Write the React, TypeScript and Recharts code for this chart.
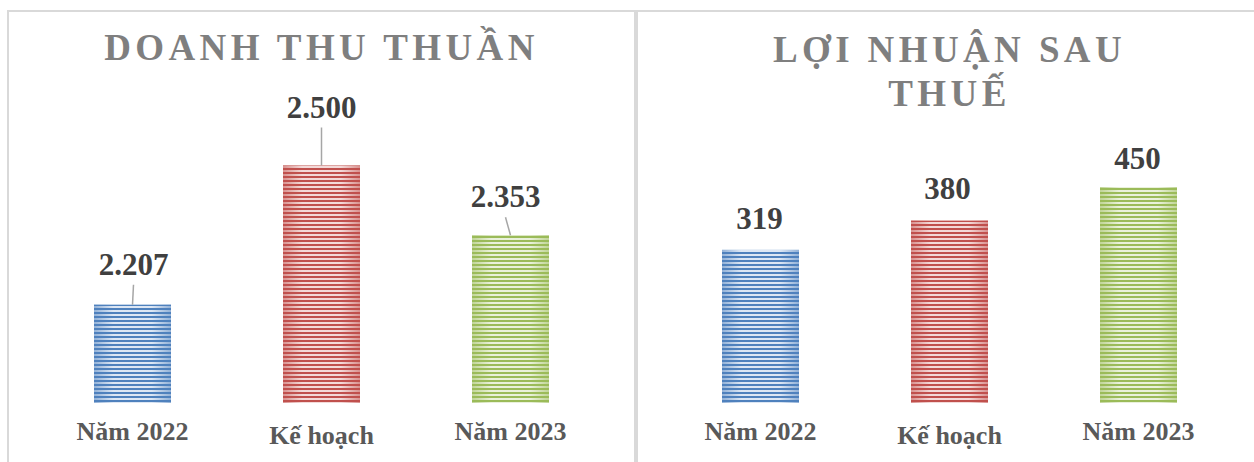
import React from 'react';
import { BarChart, Bar, XAxis, YAxis, LabelList, Cell } from 'recharts';

const categories = ['Năm 2022', 'Kế hoạch', 'Năm 2023'];
const revenueValues = [2207, 2500, 2353];
const profitValues = [319, 380, 450];
const revenueDomain = [2000, 2600];
const profitDomain = [0, 500];
const revenueTitle = ['DOANH THU THUẦN'];
const profitTitle = ['LỢI NHUẬN SAU', 'THUẾ'];

const revenueData = categories.map((name, i) => ({ name, value: revenueValues[i] }));
const profitData = categories.map((name, i) => ({ name, value: profitValues[i] }));

const palette = [
  { dark: '#4f81bd', light: '#e4ecf7' },
  { dark: '#c0504d', light: '#f6e1e0' },
  { dark: '#9bbb59', light: '#eef4e2' },
];

const FONT = '"Liberation Serif", "Times New Roman", serif';

const fmt = (v: number) => String(v).replace(/\B(?=(\d{3})+(?!\d))/g, '.');

// label placement style (offset of text baseline above bar top, horizontal shift)
const revenueLabelStyle = [
  { dy: 30, dx: 1, leader: true },
  { dy: 48, dx: 0, leader: true },
  { dy: 28, dx: -5, leader: true },
];
const profitLabelStyle = [
  { dy: 21, dx: -1, leader: false },
  { dy: 22, dx: -2, leader: false },
  { dy: 18, dx: -1, leader: false },
];

const makeShape = (prefix: string) => (props: any) => {
  const { x, y, width, height, index } = props;
  return (
    <g>
      <rect x={x} y={y} width={width} height={height} fill={palette[index].dark} />
      <rect x={x} y={y} width={width} height={height} fill={`url(#${prefix}-stripe-${index})`} />
      <rect x={x} y={y} width={width} height={height} fill={`url(#${prefix}-edge-${index})`} />
    </g>
  );
};

const makeLabel = (styles: any[]) => (props: any) => {
  const { x, y, width, value, index } = props;
  const s = styles[index];
  const cx = x + width / 2;
  const tx = cx + s.dx;
  const base = y - s.dy;
  return (
    <g>
      {s.leader && (
        <line x1={cx} y1={y} x2={tx} y2={base + 10} stroke="#a6a6a6" strokeWidth={1.5} />
      )}
      <text
        x={tx}
        y={base}
        textAnchor="middle"
        fontFamily={FONT}
        fontWeight="bold"
        fontSize={31}
        fill="#404040"
      >
        {fmt(value)}
      </text>
    </g>
  );
};

const Tick = (props: any) => {
  const { x, y, payload } = props;
  const extra = payload.value === 'Kế hoạch' ? 4 : 0;
  return (
    <text
      x={x}
      y={y + 35 + extra}
      textAnchor="middle"
      fontFamily={FONT}
      fontWeight="bold"
      fontSize={26}
      fill="#595959"
    >
      {payload.value}
    </text>
  );
};

const Defs = ({ prefix }: { prefix: string }) => (
  <defs>
    {palette.map((c, i) => (
      <React.Fragment key={i}>
        <pattern id={`${prefix}-stripe-${i}`} patternUnits="userSpaceOnUse" width={10} height={4}>
          <rect x={0} y={2} width={10} height={2} fill={c.light} />
        </pattern>
        <linearGradient id={`${prefix}-edge-${i}`} x1="0" y1="0" x2="1" y2="0">
          <stop offset="0" stopColor={c.dark} stopOpacity={0.55} />
          <stop offset="0.25" stopColor={c.dark} stopOpacity={0.05} />
          <stop offset="0.75" stopColor={c.dark} stopOpacity={0.05} />
          <stop offset="1" stopColor={c.dark} stopOpacity={0.55} />
        </linearGradient>
      </React.Fragment>
    ))}
  </defs>
);

const titleStyle = (top: number, left: number, width: number): React.CSSProperties => ({
  position: 'absolute',
  top,
  left,
  width,
  textAlign: 'center',
  fontFamily: FONT,
  fontWeight: 'bold',
  fontSize: 37,
  lineHeight: '44px',
  letterSpacing: 4.4,
  color: '#7f7f7f',
  whiteSpace: 'nowrap',
});

export default function App() {
  return (
    <div
      style={{
        position: 'absolute',
        left: 0,
        top: 0,
        width: 1254,
        height: 462,
        background: '#fff',
        overflow: 'hidden',
      }}
    >
      <div
        style={{
          position: 'absolute',
          left: 7,
          top: 10,
          width: 625,
          height: 480,
          border: '2px solid #d9d9d9',
        }}
      />
      <div
        style={{
          position: 'absolute',
          left: 636,
          top: 10,
          width: 640,
          height: 480,
          border: '2px solid #d9d9d9',
        }}
      />
      <div style={{ position: 'absolute', left: 0, top: 0 }}>
        <BarChart
          width={640}
          height={462}
          data={revenueData}
          margin={{ top: 118, right: 35, bottom: 29, left: 38 }}
        >
          <Defs prefix="rev" />
          <XAxis dataKey="name" axisLine={false} tickLine={false} tickSize={0} height={30} interval={0} tick={<Tick />} />
          <YAxis hide domain={revenueDomain} />
          <Bar dataKey="value" barSize={77} isAnimationActive={false} shape={makeShape('rev')}>
            {revenueData.map((_, i) => (
              <Cell key={i} fill={palette[i].dark} />
            ))}
            <LabelList dataKey="value" content={makeLabel(revenueLabelStyle)} />
          </Bar>
        </BarChart>
      </div>
      <div style={{ position: 'absolute', left: 637, top: 0 }}>
        <BarChart
          width={617}
          height={462}
          data={profitData}
          margin={{ top: 163, right: 21, bottom: 29, left: 29 }}
        >
          <Defs prefix="pro" />
          <XAxis dataKey="name" axisLine={false} tickLine={false} tickSize={0} height={30} interval={0} tick={<Tick />} />
          <YAxis hide domain={profitDomain} />
          <Bar dataKey="value" barSize={77} isAnimationActive={false} shape={makeShape('pro')}>
            {profitData.map((_, i) => (
              <Cell key={i} fill={palette[i].dark} />
            ))}
            <LabelList dataKey="value" content={makeLabel(profitLabelStyle)} />
          </Bar>
        </BarChart>
      </div>
      <div style={titleStyle(26, 38, 567)}>
        {revenueTitle.map((t) => (
          <div key={t}>{t}</div>
        ))}
      </div>
      <div style={titleStyle(28, 666, 567)}>
        {profitTitle.map((t) => (
          <div key={t}>{t}</div>
        ))}
      </div>
    </div>
  );
}
